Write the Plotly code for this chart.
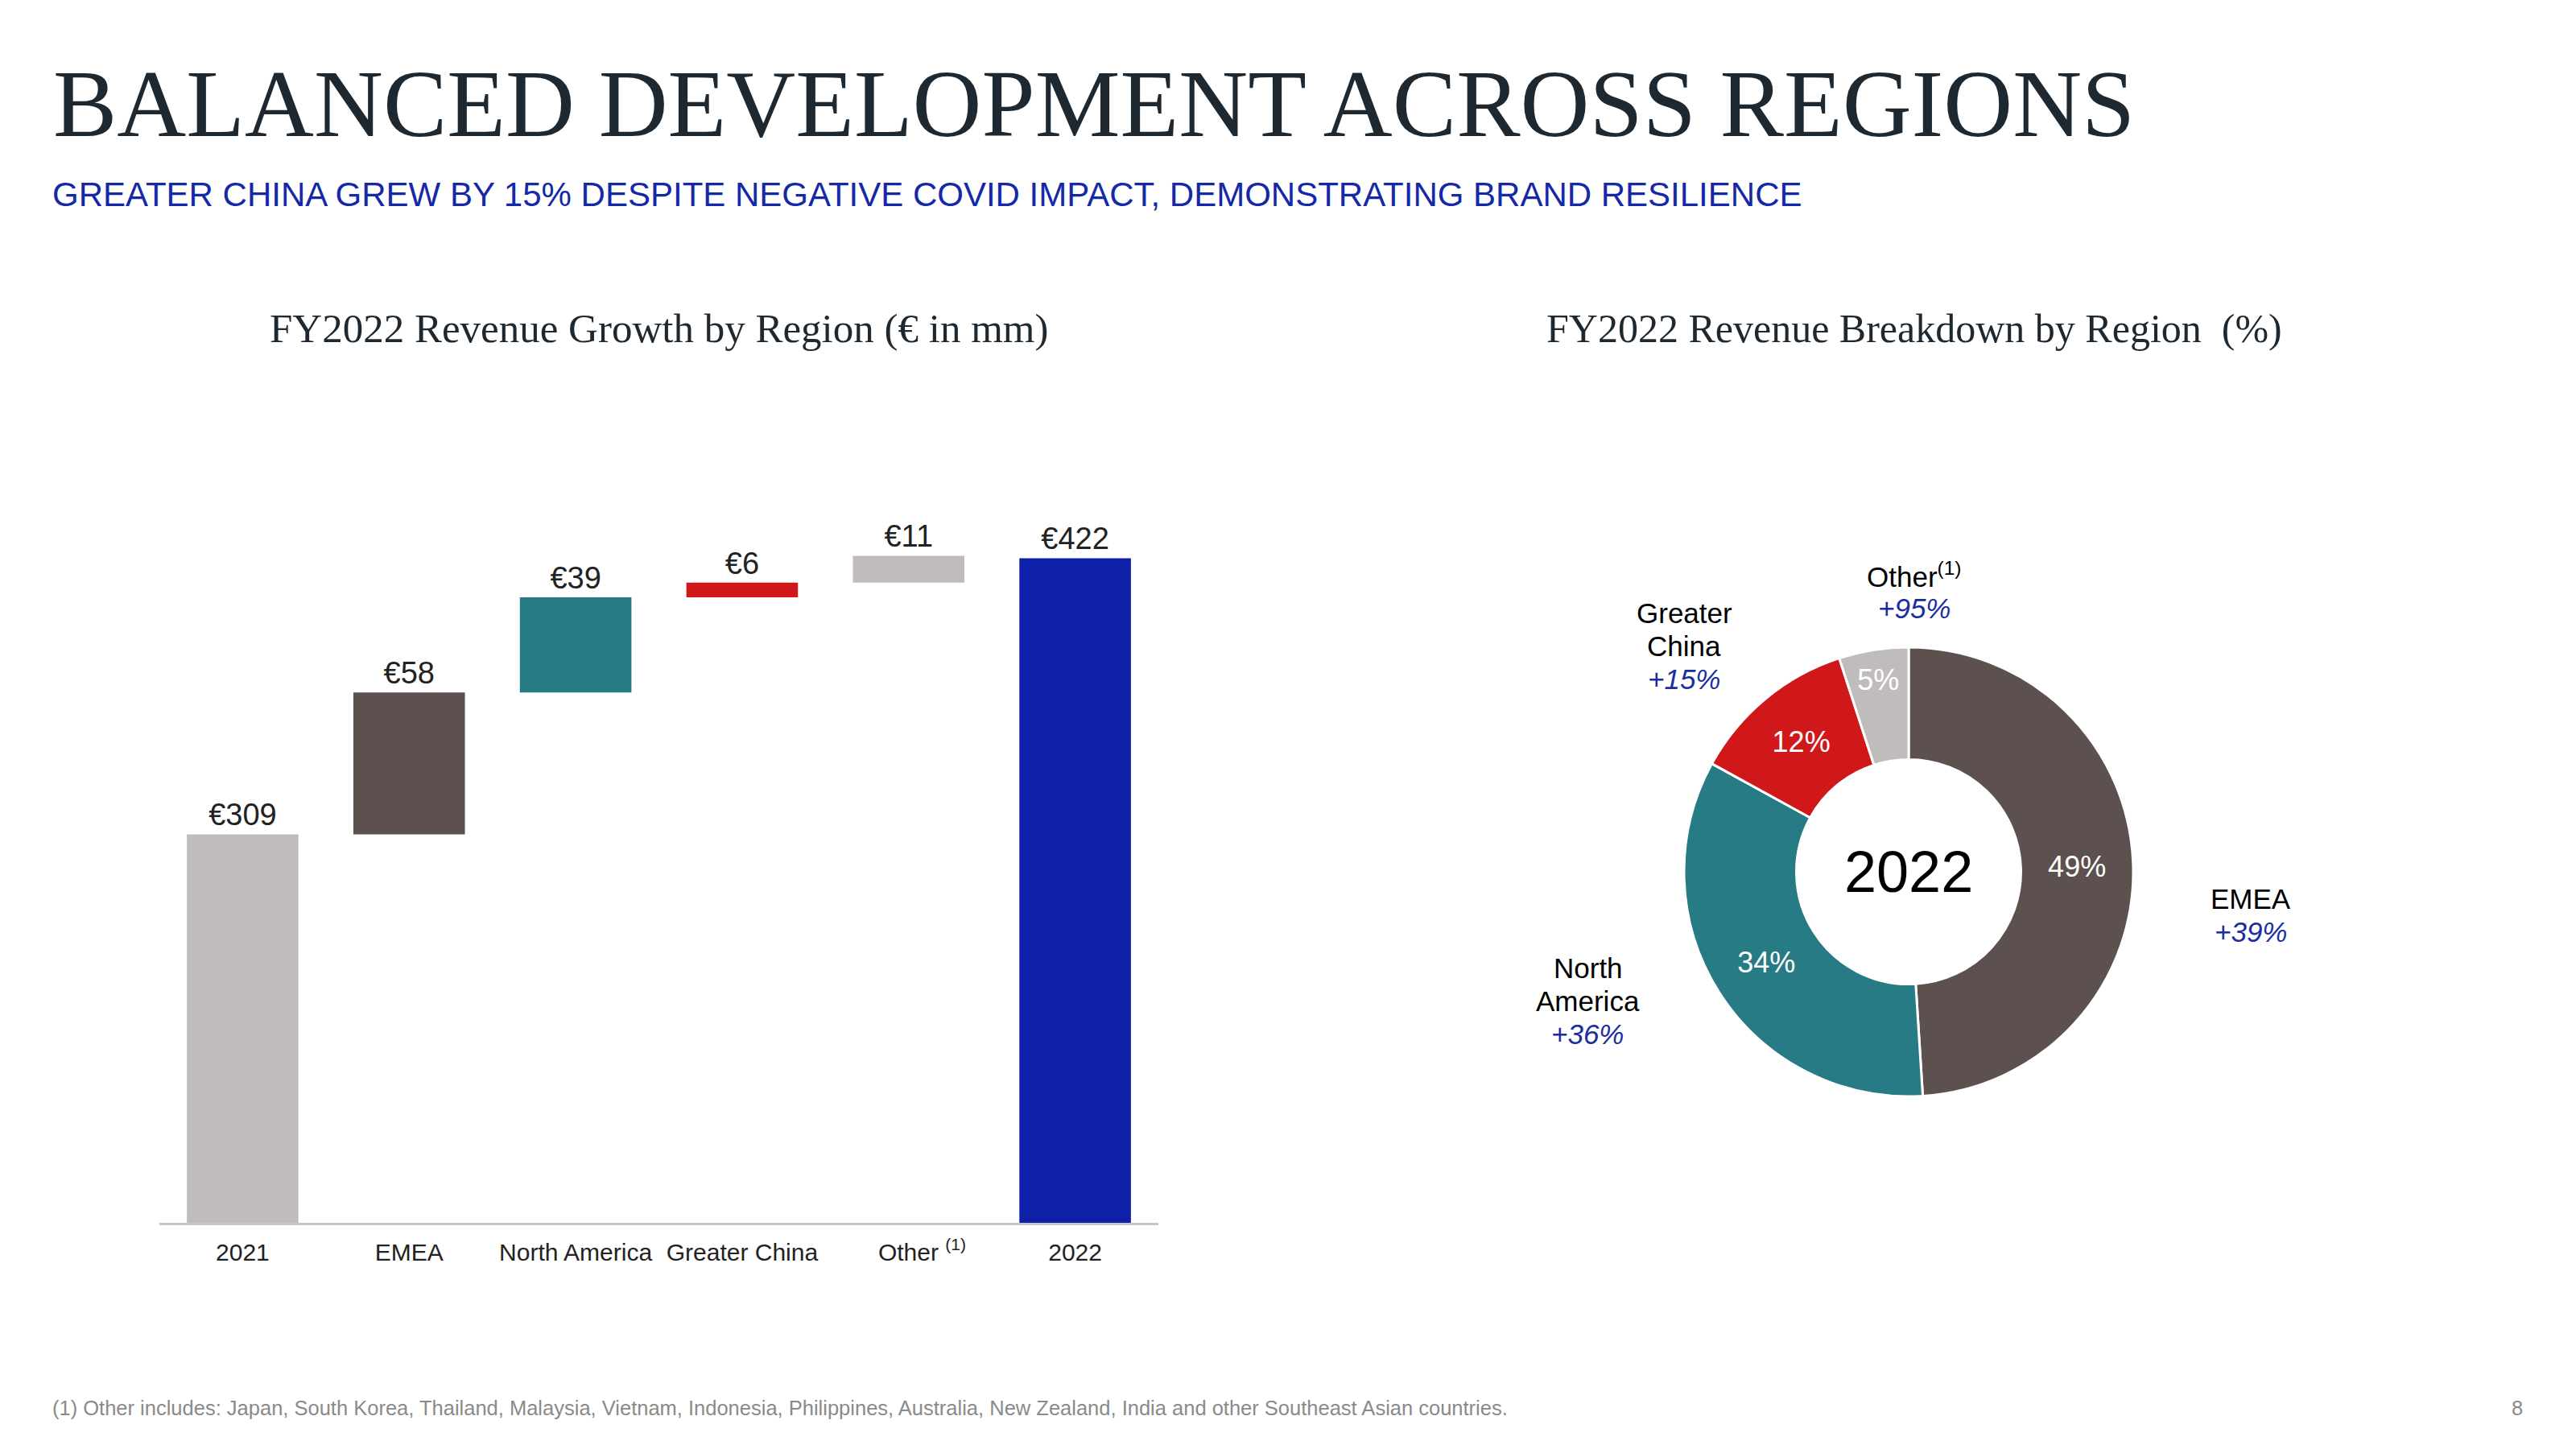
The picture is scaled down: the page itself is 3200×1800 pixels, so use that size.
import plotly.graph_objects as go

# ---------------- data ----------------
wf_categories = ["2021", "EMEA", "North America", "Greater China", "    Other <sup>(1)</sup>", "2022"]
start_value = 309
deltas = [58, 39, 6, 11]
end_value = 422
wf_colors = ["#c0bcbc", "#5c514e", "#277b84", "#d0181b", "#c0bcbc", "#0e1fa8"]

pie_regions = ["EMEA", "North America", "Greater China", "Other"]
pie_label_lines = [["EMEA"], ["North", "America"], ["Greater", "China"], ["Other<sup>(1)</sup>"]]
pie_shares = [49, 34, 12, 5]
pie_growth = ["+39%", "+36%", "+15%", "+95%"]
pie_colors = ["#5c514e", "#277b84", "#d0181b", "#c0bcbc"]

title_txt = "BALANCED DEVELOPMENT ACROSS REGIONS"
subtitle_txt = "GREATER CHINA GREW BY 15% DESPITE NEGATIVE COVID IMPACT, DEMONSTRATING BRAND RESILIENCE"
left_title = "FY2022 Revenue Growth by Region (€ in mm)"
right_title = "FY2022 Revenue Breakdown by Region  (%)"
footnote = ("(1) Other includes: Japan, South Korea, Thailand, Malaysia, Vietnam, Indonesia, "
            "Philippines, Australia, New Zealand, India and other Southeast Asian countries.")

# ---------------- build waterfall ----------------
W, H = 3200, 1800
OFF = 8  # page body margin
bar_y = [start_value] + deltas + [end_value]
bases = [0]
run = start_value
for d in deltas:
    bases.append(run)
    run += d
bases.append(0)
bar_text = ["€%d" % v for v in bar_y]

SANS = "Liberation Sans, Arial, sans-serif"
SERIF = "Liberation Serif, Times New Roman, serif"

fig = go.Figure()
fig.add_trace(go.Bar(
    x=wf_categories, y=bar_y, base=bases,
    marker=dict(color=wf_colors, line=dict(width=0)),
    width=0.67,
    text=bar_text, textposition="outside",
    textfont=dict(family=SANS, size=38, color="#222222"),
    cliponaxis=False, showlegend=False, hoverinfo="skip",
    xaxis="x", yaxis="y",
))

def px_x(v):
    return (v - OFF) / W

def px_y(v):
    return 1 - (v - OFF) / H

fig.update_layout(
    xaxis=dict(domain=[px_x(198), px_x(1439)], range=[-0.5, 5.5], showline=True,
               linecolor="#c6c6c6", linewidth=3, showgrid=False, zeroline=False,
               ticks="", ticklabelstandoff=8,
               tickfont=dict(family=SANS, size=30, color="#222222"), fixedrange=True),
    yaxis=dict(domain=[px_y(1519), px_y(640)], range=[150, 439.6], visible=False,
               showgrid=False, zeroline=False),
)

# ---------------- donut ----------------
cx, cy, r = 2371, 1083, 279
fig.add_trace(go.Pie(
    labels=pie_regions, values=pie_shares, hole=0.5, sort=False,
    direction="clockwise", rotation=0,
    marker=dict(colors=pie_colors, line=dict(color="white", width=3)),
    texttemplate="%{value}%", textposition="inside", insidetextorientation="horizontal",
    textfont=dict(family=SANS, size=36, color="white"),
    domain=dict(x=[px_x(cx - r), px_x(cx + r)], y=[px_y(cy + r), px_y(cy - r)]),
    showlegend=False, hoverinfo="skip",
))

annotations = []
annotations.append(dict(text="2022", x=px_x(cx), y=px_y(cy), xref="paper", yref="paper",
                        showarrow=False, font=dict(family=SANS, size=72, color="#000000"),
                        xanchor="center", yanchor="middle"))

label_pos = {  # (x center, y of first line center) in px
    "EMEA": (2796, 1116),
    "North America": (1973, 1202),
    "Greater China": (2092, 761),
    "Other": (2378, 714),
}
LINE = 41
for reg, lines, g in zip(pie_regions, pie_label_lines, pie_growth):
    lx, ly = label_pos[reg]
    for i, ln in enumerate(lines + [None]):
        if ln is None:
            txt, col, ital = g, "#1a2ea0", True
        else:
            txt, col, ital = ln, "#000000", False
        annotations.append(dict(
            text=("<i>%s</i>" % txt) if ital else txt,
            x=px_x(lx), y=px_y(ly + i * LINE), xref="paper", yref="paper", showarrow=False,
            xanchor="center", yanchor="middle", align="center",
            font=dict(family=SANS, size=35, color=col),
        ))

# ---------------- page text ----------------
annotations += [
    dict(text=title_txt, x=px_x(64), y=px_y(129), xref="paper", yref="paper", showarrow=False,
         xanchor="left", yanchor="middle", font=dict(family=SERIF, size=119, color="#1e2830")),
    dict(text=subtitle_txt, x=px_x(63), y=px_y(241), xref="paper", yref="paper", showarrow=False,
         xanchor="left", yanchor="middle", font=dict(family=SANS, size=42, color="#1428a8")),
    dict(text=left_title, x=px_x(818), y=px_y(408), xref="paper", yref="paper", showarrow=False,
         xanchor="center", yanchor="middle", font=dict(family=SERIF, size=51, color="#1e2830")),
    dict(text=right_title, x=px_x(2378), y=px_y(408), xref="paper", yref="paper", showarrow=False,
         xanchor="center", yanchor="middle", font=dict(family=SERIF, size=50, color="#1e2830")),
    dict(text=footnote, x=px_x(63), y=px_y(1749), xref="paper", yref="paper", showarrow=False,
         xanchor="left", yanchor="middle", font=dict(family=SANS, size=25.5, color="#8a8a8a")),
    dict(text="8", x=px_x(3136), y=px_y(1749), xref="paper", yref="paper", showarrow=False,
         xanchor="right", yanchor="middle", font=dict(family=SANS, size=25.5, color="#8a8a8a")),
]

fig.update_layout(
    width=W, height=H, margin=dict(l=0, r=0, t=0, b=0),
    paper_bgcolor="white", plot_bgcolor="white",
    annotations=annotations,
    uniformtext=dict(minsize=36, mode="show"),
)

fig.write_html("out.html")
